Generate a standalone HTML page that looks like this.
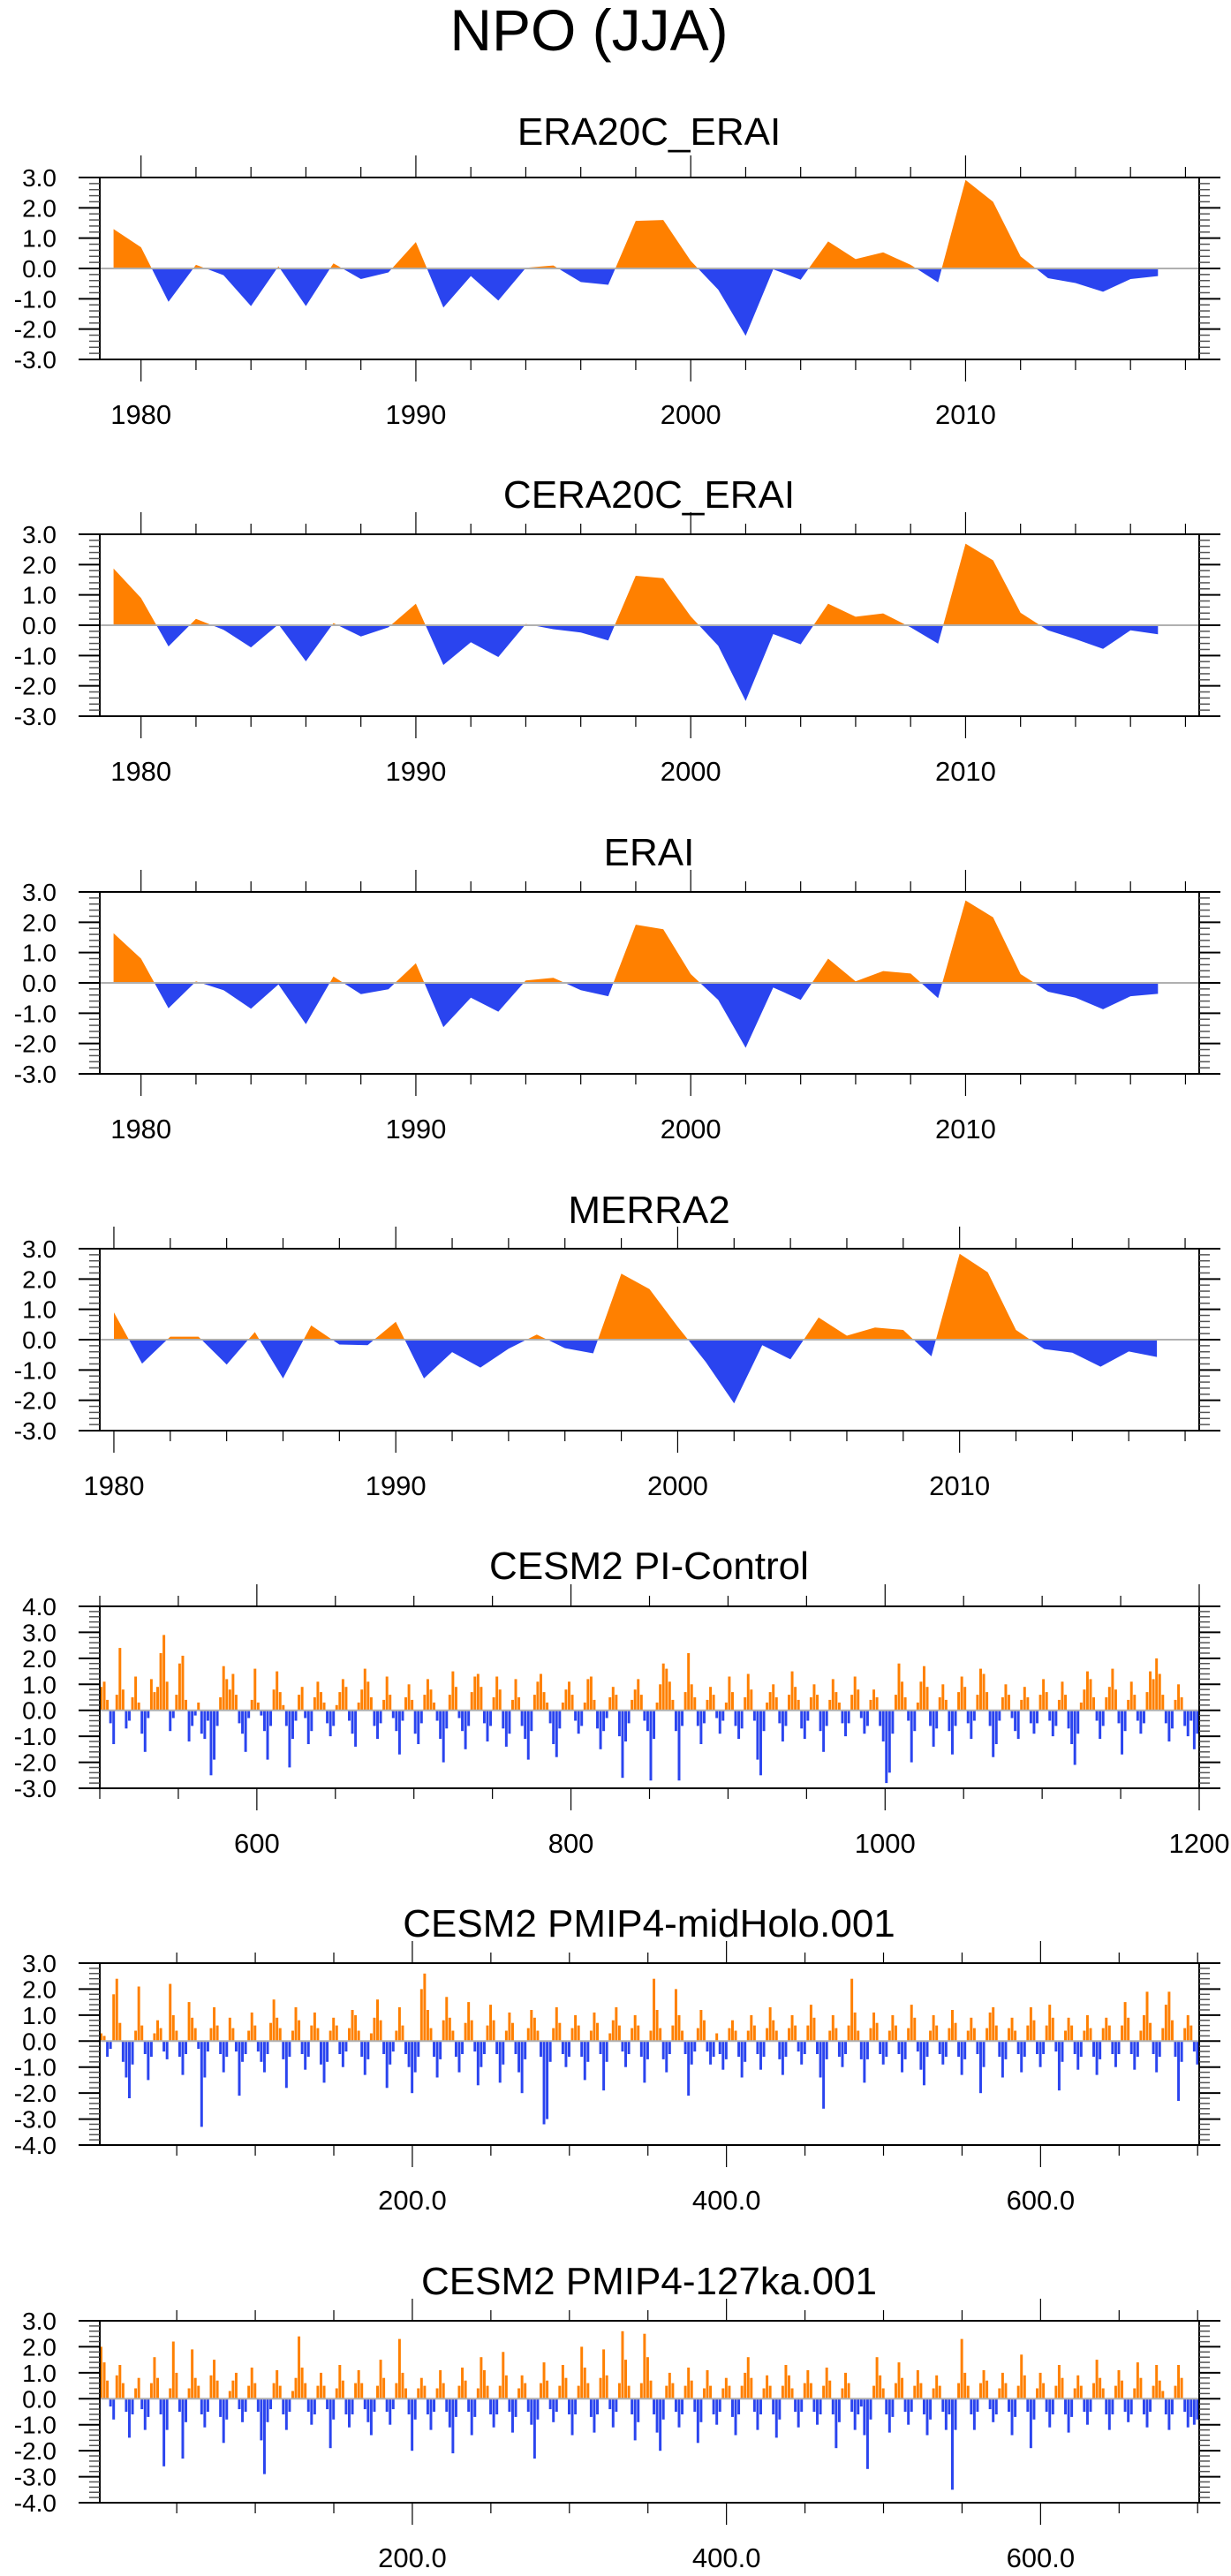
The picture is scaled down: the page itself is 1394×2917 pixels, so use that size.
<!DOCTYPE html>
<html><head><meta charset="utf-8"><style>
html,body{margin:0;padding:0;background:#fff;}
svg{display:block;font-family:"Liberation Sans",sans-serif;}
</style></head><body>
<svg id="chart" width="1394" height="2917" viewBox="0 0 1394 2917" xmlns="http://www.w3.org/2000/svg">
<text x="667" y="57" font-size="66" text-anchor="middle">NPO (JJA)</text>
</svg>
<script>
const yearsERA=[];for(let y=1979;y<=2017;y++)yearsERA.push(y);
const yearsMERRA=[];for(let y=1980;y<=2017;y++)yearsMERRA.push(y);
const era20cErai=[1.3,0.7,-1.1,0.12,-0.22,-1.24,0.07,-1.24,0.17,-0.35,-0.13,0.87,-1.29,-0.25,-1.06,0.02,0.1,-0.45,-0.54,1.57,1.6,0.25,-0.7,-2.22,-0.03,-0.37,0.89,0.31,0.53,0.12,-0.46,2.92,2.2,0.4,-0.32,-0.48,-0.77,-0.35,-0.25];
const cera20cErai=[1.87,0.9,-0.7,0.21,-0.15,-0.73,0.03,-1.19,0.07,-0.37,-0.07,0.71,-1.31,-0.56,-1.05,0.04,-0.13,-0.24,-0.5,1.63,1.55,0.29,-0.68,-2.5,-0.29,-0.63,0.71,0.28,0.39,-0.07,-0.61,2.69,2.14,0.41,-0.17,-0.46,-0.78,-0.17,-0.3];
const erai=[1.64,0.8,-0.84,0.05,-0.24,-0.85,-0.05,-1.36,0.21,-0.37,-0.21,0.65,-1.46,-0.49,-0.95,0.08,0.17,-0.24,-0.44,1.92,1.77,0.29,-0.56,-2.14,-0.15,-0.56,0.8,0.05,0.39,0.31,-0.5,2.72,2.16,0.29,-0.29,-0.49,-0.87,-0.44,-0.36];
const merra2=[0.9,-0.79,0.1,0.1,-0.82,0.25,-1.28,0.47,-0.16,-0.18,0.59,-1.28,-0.41,-0.92,-0.3,0.17,-0.28,-0.45,2.18,1.67,0.43,-0.74,-2.1,-0.18,-0.65,0.73,0.13,0.4,0.32,-0.55,2.83,2.22,0.32,-0.31,-0.43,-0.89,-0.39,-0.57];
const piControl=[0.9,1.1,0.4,-0.5,-1.3,0.6,2.4,0.8,-0.7,-0.4,0.5,1.3,0.3,-0.9,-1.6,-0.3,1.2,0.7,0.9,2.2,2.9,1.1,-0.8,-0.3,0.6,
1.8,2.1,0.4,-1.2,-0.6,-0.2,0.3,-0.9,-1.1,-0.4,-2.5,-1.9,-0.6,0.5,1.7,1.2,0.8,1.4,0.6,-0.5,-0.9,-1.6,-0.3,0.4,1.6,
0.3,-0.2,-0.8,-1.9,-0.6,0.8,1.5,0.7,0.2,-0.6,-2.2,-1.1,-0.4,0.6,0.9,-0.3,-1.3,-0.8,0.5,1.1,0.7,0.3,-0.5,-1.0,-0.6,
0.2,0.7,1.2,0.9,-0.4,-0.9,-1.4,0.3,0.8,1.6,1.1,0.5,-0.6,-1.1,-0.5,0.4,1.3,0.6,-0.3,-0.8,-1.7,-0.4,0.5,1.0,0.4,
-0.9,-1.3,-0.5,0.6,1.2,0.8,0.3,-0.4,-1.1,-2.0,-0.7,0.6,1.5,0.9,-0.3,-0.8,-1.5,-0.6,0.7,1.3,1.4,0.9,-0.5,-1.2,-0.6,
0.5,1.3,0.8,-0.7,-1.4,-0.9,0.4,1.2,0.5,-0.6,-1.1,-1.9,-0.8,0.6,1.1,1.4,0.7,0.3,-0.5,-1.3,-1.8,-0.7,0.3,0.8,1.1,
0.6,-0.4,-0.9,-0.6,0.3,1.2,1.3,0.4,-0.7,-1.5,-0.8,-0.3,0.5,0.9,0.6,-1.0,-2.6,-1.2,-0.5,0.4,0.8,1.2,0.6,-0.4,-0.8,
-2.7,-1.1,0.3,1.0,1.8,1.6,1.1,0.4,-0.8,-2.7,-0.6,0.7,2.2,1.0,0.5,-0.6,-1.3,-0.5,0.4,0.9,0.6,-0.3,-0.9,-0.4,0.3,
1.3,0.7,-0.6,-1.1,-0.7,0.5,1.4,0.8,-0.4,-1.9,-2.5,-0.8,0.3,0.7,1.0,0.5,-0.5,-1.2,-0.6,0.6,1.5,0.9,0.4,-0.7,-1.1,
-0.4,0.5,1.0,0.6,-0.8,-1.6,-0.6,0.4,1.2,0.7,0.3,-0.5,-1.0,-0.5,0.6,1.3,0.8,-0.3,-0.9,-0.6,0.4,0.8,0.5,-0.6,-1.2,
-2.8,-2.4,-0.9,0.6,1.8,1.1,0.5,-0.4,-2.0,-0.8,0.3,1.1,1.7,0.9,-0.6,-1.4,-0.7,0.5,1.0,0.4,-0.8,-1.7,-0.6,0.7,1.3,
0.9,-0.5,-1.1,-0.4,0.6,1.6,1.4,0.7,-0.6,-1.8,-1.3,-0.4,0.5,1.0,0.6,-0.3,-0.8,-1.1,0.4,0.9,0.5,-0.5,-0.9,-0.5,0.6,
1.2,0.7,-0.4,-1.0,-0.6,0.4,1.1,0.6,-0.7,-1.3,-2.1,-0.9,0.3,0.8,1.5,1.2,0.5,-0.4,-1.1,-0.6,0.5,0.9,1.6,0.8,-0.5,
-1.7,-0.8,0.4,1.1,0.6,-0.4,-0.9,-0.5,0.7,1.5,1.2,2.0,1.4,0.6,-0.5,-1.2,-0.7,0.4,1.0,0.5,-0.6,-1.0,-0.4,-1.5,-0.9];
const midHolo=[0.3,0.2,-0.6,-0.3,1.8,2.4,0.7,-0.8,-1.4,-2.2,-0.9,0.4,2.1,0.6,-0.5,-1.5,-0.6,0.3,0.8,0.5,-0.4,-0.7,2.2,1.0,0.4,
-0.6,-1.3,-0.5,1.5,0.9,0.5,-0.3,-3.3,-1.4,-0.4,0.5,1.3,0.6,-0.5,-1.2,-0.6,0.9,0.5,-0.4,-2.1,-0.8,-0.5,0.4,1.1,0.6,
-0.4,-0.8,-1.2,-0.5,0.7,1.6,0.9,0.5,-0.7,-1.8,-0.6,0.4,1.3,0.8,-0.5,-1.1,-0.6,0.6,1.1,0.5,-0.9,-1.6,-0.8,0.4,0.9,
0.6,-0.5,-1.0,-0.4,0.5,1.2,1.0,0.4,-0.6,-1.3,-0.7,0.3,0.9,1.6,0.8,-0.5,-1.8,-0.9,-0.4,0.4,1.3,0.6,-0.5,-1.0,-2.0,
-1.2,-0.6,2.0,2.6,1.2,0.5,-0.6,-1.4,-0.7,0.8,1.7,0.9,0.4,-0.6,-1.2,-0.5,0.7,1.5,0.8,-0.4,-1.7,-1.0,-0.5,0.6,1.4,
0.8,-0.5,-1.6,-0.9,0.4,1.1,0.7,-0.5,-1.2,-2.0,-0.7,0.5,1.2,0.9,0.4,-0.6,-3.2,-3.0,-0.8,0.5,1.3,0.7,-0.5,-1.0,-0.6,
0.5,1.0,0.6,-0.6,-1.5,-0.8,0.4,1.1,0.7,-0.5,-1.9,-0.8,0.3,0.8,1.3,0.6,-0.4,-1.0,-0.5,0.5,1.0,0.6,-0.6,-1.6,-0.7,
0.4,2.4,1.2,0.5,-0.7,-1.2,-0.5,0.6,2.0,1.0,0.4,-0.5,-2.1,-0.9,-0.4,0.5,1.2,0.8,-0.4,-0.9,-0.6,0.3,-0.5,-1.1,-0.7,
0.5,0.8,0.4,-0.6,-1.4,-0.8,0.4,1.0,0.6,-0.5,-1.1,-0.6,0.5,1.3,0.8,0.4,-0.7,-1.3,-0.6,0.5,1.0,0.6,-0.4,-0.9,-0.5,
0.6,1.4,0.9,-0.5,-1.4,-2.6,-0.7,0.4,1.0,0.5,-0.6,-1.0,-0.5,0.6,2.4,1.1,0.4,-0.7,-1.6,-0.7,0.5,1.1,0.7,-0.5,-0.9,
-0.6,0.4,1.0,0.6,-0.5,-1.2,-0.7,0.5,1.4,0.9,-0.4,-1.1,-1.7,-0.6,0.4,1.0,0.6,-0.5,-0.9,-0.6,0.5,1.2,0.7,-0.6,-1.3,
-0.7,0.4,0.9,0.5,-0.5,-2.0,-1.0,0.5,1.1,1.3,0.6,-0.6,-1.4,-0.7,0.5,0.9,0.4,-0.5,-1.2,-0.6,0.6,1.3,0.8,-0.5,-1.0,
-0.5,0.6,1.4,0.9,-0.4,-1.9,-0.8,0.4,0.9,0.6,-0.5,-1.1,-0.6,0.4,1.0,0.5,-0.6,-1.3,-0.7,0.5,0.9,0.6,-0.5,-1.0,-0.5,
0.6,1.5,0.9,-0.5,-1.1,-0.6,0.4,1.0,1.9,0.7,-0.5,-1.2,-0.6,0.5,1.4,1.9,0.8,-0.6,-2.3,-0.8,0.5,1.0,0.6,-0.4,-0.9];
const ka127=[2.0,1.4,0.7,-0.3,-0.8,0.9,1.3,0.6,-0.5,-1.5,-0.6,0.4,0.8,-0.4,-1.2,-0.7,0.6,1.6,0.8,-0.6,-2.6,-1.2,0.4,2.2,1.0,
-0.5,-2.3,-0.9,0.4,1.9,0.8,0.5,-0.6,-1.1,-0.5,0.9,1.5,0.7,-0.7,-1.7,-0.8,0.3,0.7,1.0,-0.4,-0.9,-0.5,0.5,1.2,0.6,
-0.5,-1.6,-2.9,-0.9,-0.4,0.6,1.1,0.5,-0.6,-1.2,-0.5,0.3,0.8,2.4,1.2,0.6,-0.5,-1.0,-0.6,0.5,1.0,0.5,-0.4,-1.9,-0.8,
0.4,1.3,0.7,-0.6,-1.1,-0.6,0.6,1.1,0.6,-0.4,-0.9,-1.4,-0.5,0.5,1.5,0.8,-0.5,-1.0,-0.4,0.6,2.3,1.0,0.4,-0.6,-2.0,
-0.8,0.4,0.8,0.5,-0.6,-1.2,-0.5,0.4,1.1,0.6,-0.5,-1.1,-2.1,-0.7,0.5,1.2,0.7,-0.5,-1.4,-0.7,0.4,1.6,1.1,0.5,-0.6,
-1.1,-0.6,0.5,1.8,0.9,-0.5,-1.3,-0.7,0.4,0.9,0.6,-0.5,-1.0,-2.3,-0.8,0.6,1.4,0.7,-0.4,-0.9,-0.5,0.5,1.3,0.8,-0.6,
-1.4,-0.6,0.5,2.0,1.2,0.6,-0.7,-1.3,-0.6,0.8,1.9,0.9,-0.4,-1.1,-0.5,0.6,2.6,1.5,0.5,-0.6,-1.6,-0.9,0.6,2.5,1.6,
0.7,-0.6,-1.3,-2.0,-0.8,0.5,1.0,0.6,-0.5,-1.1,-0.6,0.5,1.2,0.7,-0.5,-1.7,-0.9,0.4,1.1,0.5,-0.6,-1.0,-0.5,0.4,0.8,
0.5,-0.7,-1.4,-0.6,0.5,1.0,1.6,0.8,-0.5,-1.2,-0.6,0.4,0.9,0.5,-0.6,-1.5,-0.8,0.5,1.3,0.9,0.4,-0.5,-1.1,-0.5,0.6,
1.1,0.6,-0.5,-1.0,-0.6,0.5,1.2,0.7,-0.6,-1.9,-0.9,0.4,1.0,0.6,-0.5,-1.2,-0.6,-0.3,-1.4,-2.7,-0.8,0.5,1.6,0.9,0.4,
-0.6,-1.3,-0.7,0.6,1.4,0.8,-0.5,-1.0,-0.5,0.5,1.1,0.6,-0.6,-1.4,-0.8,0.4,0.9,0.5,-0.5,-1.2,-0.6,-3.5,-1.2,0.6,2.3,
1.0,0.5,-0.6,-1.2,-0.5,0.6,1.1,0.7,-0.4,-0.9,-0.6,0.4,1.0,0.6,-0.5,-1.4,-0.7,0.5,1.7,0.9,-0.5,-1.9,-0.8,0.4,1.0,
0.6,-0.5,-1.1,-0.6,0.5,1.3,0.8,-0.6,-1.3,-0.7,0.4,0.9,0.5,-0.5,-1.0,-0.5,0.6,1.5,0.8,0.4,-0.6,-1.2,-0.6,0.5,1.1,
0.7,-0.5,-0.9,-0.6,0.4,1.4,0.8,-0.6,-1.1,-0.5,0.5,1.3,0.7,0.3,-0.6,-1.2,-0.6,0.5,1.3,0.8,-0.5,-1.1,-0.7,-1.0,-0.8];

const NS='http://www.w3.org/2000/svg';
const svg=document.getElementById('chart');
const ORANGE='#ff8000',BLUE='#2a44ef';
const L=113,R=1358,H=206;
function el(tag,attrs,parent){const e=document.createElementNS(NS,tag);for(const k in attrs)e.setAttribute(k,attrs[k]);(parent||svg).appendChild(e);return e;}

function panel(p){
  const g=el('g',{});
  
  
  const top=p.top,bot=top+H;
  const xs=v=>L+(v-p.xmin)/(p.xmax-p.xmin)*(R-L);
  const ys=v=>bot-(v-p.ymin)/(p.ymax-p.ymin)*H;
  const t=el('text',{x:735,y:top-p.tOff,'font-size':44,'text-anchor':'middle'},g);
  t.textContent=p.title;
  
  
  const marks=el('g',{},g);
  
  
  const y0=ys(0);
  if(p.type==='area'){
    const pts=p.x.map((x,i)=>[xs(x),ys(p.v[i]),p.v[i]]);
    let segs=[];let cur=null;
    for(let i=0;i<pts.length;i++){
      const s=pts[i][2]>=0?1:-1;
      if(!cur){cur={s,pts:[[pts[i][0],y0],[pts[i][0],pts[i][1]]]};continue;}
      if(s!==cur.s){
        const a=pts[i-1],b=pts[i];const f=a[2]/(a[2]-b[2]);const xc=a[0]+(b[0]-a[0])*f;
        cur.pts.push([xc,y0]);segs.push(cur);
        cur={s,pts:[[xc,y0],[b[0],b[1]]]};
      } else cur.pts.push([pts[i][0],pts[i][1]]);
    }
    cur.pts.push([pts[pts.length-1][0],y0]);segs.push(cur);
    segs.forEach(sg=>{
      const poly=el('polygon',{points:sg.pts.map(q=>q[0].toFixed(1)+','+q[1].toFixed(1)).join(' '),fill:sg.s>0?ORANGE:BLUE},marks);
      
      
    });
  } else {
    const step=p.step;
    p.v.forEach((v,i)=>{
      const x0=p.x0+i*step;
      const xa=xs(x0),xb=xs(x0+step);
      const yv=ys(v);
      const r=el('rect',{x:xa.toFixed(2),y:Math.min(yv,y0).toFixed(1),width:Math.max(0.6,(xb-xa)-0.6).toFixed(2),height:Math.abs(y0-yv).toFixed(1),fill:v>=0?ORANGE:BLUE},marks);
      
      
    });
  }
  el('line',{x1:L,x2:R,y1:y0,y2:y0,stroke:'#b0b0b0','stroke-width':2},g);
  const fr=el('rect',{x:L,y:top,width:R-L,height:H,fill:'none',stroke:'#000','stroke-width':2},g);
  
  
  for(let k=Math.round(p.ymin*5);k<=Math.round(p.ymax*5);k++){
    const v=k/5,y=ys(v),maj=(k%5===0);
    const len=maj?24:12;
    el('line',{x1:L-len,x2:L,y1:y,y2:y,stroke:maj?'#000':'#555','stroke-width':maj?2:1.5},g);
    el('line',{x1:R,x2:R+len,y1:y,y2:y,stroke:maj?'#000':'#555','stroke-width':maj?2:1.5},g);
    if(maj){
      const tl=el('text',{x:64,y:y+10,'font-size':28,'text-anchor':'end'},g);
      tl.textContent=v.toFixed(1);
      
      
    }
  }
  for(let v=Math.ceil(p.xmin/p.minor)*p.minor;v<=p.xmax;v+=p.minor){
    const x=xs(v),maj=(v%p.major===0);
    const len=maj?25:12;
    el('line',{x1:x,x2:x,y1:top-len,y2:top,stroke:'#000','stroke-width':1.2},g);
    el('line',{x1:x,x2:x,y1:bot,y2:bot+len,stroke:'#000','stroke-width':1.2},g);
    if(maj){
      const tl=el('text',{x:x,y:bot+73,'font-size':31,'text-anchor':'middle'},g);
      tl.textContent=p.fmt(v);
      
      
    }
  }
}
const yr=v=>String(v), dec=v=>v.toFixed(1);
panel({id:'era20c-erai',title:'ERA20C_ERAI',top:201,tOff:37,type:'area',x:yearsERA,v:era20cErai,xmin:1978.5,xmax:2018.5,ymin:-3,ymax:3,minor:2,major:10,fmt:yr});
panel({id:'cera20c-erai',title:'CERA20C_ERAI',top:605,tOff:30,type:'area',x:yearsERA,v:cera20cErai,xmin:1978.5,xmax:2018.5,ymin:-3,ymax:3,minor:2,major:10,fmt:yr});
panel({id:'erai',title:'ERAI',top:1010,tOff:30,type:'area',x:yearsERA,v:erai,xmin:1978.5,xmax:2018.5,ymin:-3,ymax:3,minor:2,major:10,fmt:yr});
panel({id:'merra2',title:'MERRA2',top:1414,tOff:29,type:'area',x:yearsMERRA,v:merra2,xmin:1979.5,xmax:2018.5,ymin:-3,ymax:3,minor:2,major:10,fmt:yr});
panel({id:'cesm2-pi-control',title:'CESM2 PI-Control',top:1819,tOff:31,type:'bar',x0:500,step:2,v:piControl,xmin:500,xmax:1200,ymin:-3,ymax:4,minor:50,major:200,fmt:yr});
panel({id:'cesm2-midholo',title:'CESM2 PMIP4-midHolo.001',top:2223,tOff:30,type:'bar',x0:1,step:2,v:midHolo,xmin:1,xmax:701,ymin:-4,ymax:3,minor:50,major:200,fmt:dec});
panel({id:'cesm2-127ka',title:'CESM2 PMIP4-127ka.001',top:2628,tOff:30,type:'bar',x0:1,step:2,v:ka127,xmin:1,xmax:701,ymin:-4,ymax:3,minor:50,major:200,fmt:dec});
</script>
</body></html>
